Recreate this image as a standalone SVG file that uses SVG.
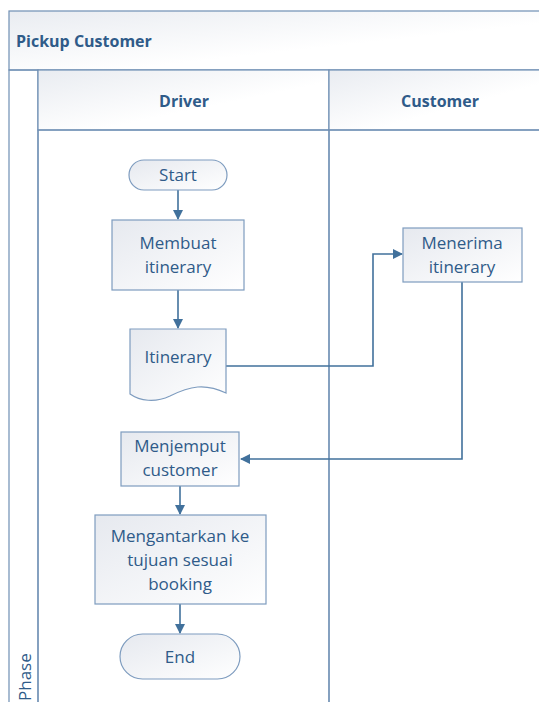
<svg xmlns="http://www.w3.org/2000/svg" width="539" height="702" viewBox="0 0 539 702">
<defs>
<linearGradient id="g" x1="0" y1="0" x2="1" y2="1">
<stop offset="0" stop-color="#E6E9EF"/>
<stop offset="1" stop-color="#FFFFFF"/>
</linearGradient>
<linearGradient id="hg" x1="0" y1="0" x2="1" y2="1">
<stop offset="0" stop-color="#E9ECF1"/>
<stop offset="0.6" stop-color="#FFFFFF"/>
</linearGradient>
<marker id="ar" markerWidth="10" markerHeight="10" refX="9" refY="5" orient="auto" markerUnits="userSpaceOnUse">
<path d="M0,0 L10,5 L0,10 Z" fill="#41719C"/>
</marker>
<style>
.sh{fill:url(#g);stroke:#7E9CBF;stroke-width:1.2}
.ln{fill:none;stroke:#6F8FB4;stroke-width:1.2}
.hd{fill:url(#hg);stroke:#6F8FB4;stroke-width:1.2}
.t{font-family:"Open Sans","Noto Sans",sans-serif;font-size:17px;fill:#2F5B89;text-anchor:middle}
.b{font-family:"Open Sans","Noto Sans",sans-serif;font-size:16px;font-weight:bold;fill:#2F5B89}
.c{fill:none;stroke:#41719C;stroke-width:1.6}
</style>
</defs>
<rect width="539" height="702" fill="#FFFFFF"/>
<g id="pool">
<rect class="hd" x="9" y="11" width="540" height="59"/>
<text class="b" x="16" y="47">Pickup Customer</text>
<rect class="ln" x="9" y="70" width="29" height="640" fill="#FFFFFF"/>
<text class="t" transform="translate(31,701) rotate(-90)" style="text-anchor:start">Phase</text>
</g>
<g id="lane-driver">
<rect class="hd" x="38" y="70" width="291" height="60"/>
<text class="b" x="184" y="107" text-anchor="middle">Driver</text>
<rect class="ln" x="38" y="130" width="291" height="580"/>
</g>
<g id="lane-customer">
<rect class="hd" x="329" y="70" width="220" height="60"/>
<text class="b" x="440" y="107" text-anchor="middle">Customer</text>
<rect class="ln" x="329" y="130" width="220" height="580"/>
</g>
<g id="connectors">
<path class="c" d="M178,190 V219" marker-end="url(#ar)"/>
<path class="c" d="M178,290 V328" marker-end="url(#ar)"/>
<path class="c" d="M226,366 H373 V254 H402" marker-end="url(#ar)"/>
<path class="c" d="M462,282 V459 H241" marker-end="url(#ar)"/>
<path class="c" d="M180,486 V514" marker-end="url(#ar)"/>
<path class="c" d="M180,604 V633" marker-end="url(#ar)"/>
</g>
<g id="start">
<rect class="sh" x="129" y="160" width="98" height="30" rx="15"/>
<text class="t" x="178" y="181">Start</text>
</g>
<g id="membuat">
<rect class="sh" x="112" y="220" width="132" height="70"/>
<text class="t" x="178" y="249">Membuat</text>
<text class="t" x="178" y="273">itinerary</text>
</g>
<g id="itinerary">
<path class="sh" d="M130,329 H226 V393 C205,383 190,386 170,396 C155,403 140,401 130,394 Z"/>
<text class="t" x="178" y="363">Itinerary</text>
</g>
<g id="menerima">
<rect class="sh" x="403" y="228" width="119" height="54"/>
<text class="t" x="462" y="249">Menerima</text>
<text class="t" x="462" y="273">itinerary</text>
</g>
<g id="menjemput">
<rect class="sh" x="121" y="432" width="118" height="54"/>
<text class="t" x="180" y="452">Menjemput</text>
<text class="t" x="180" y="476">customer</text>
</g>
<g id="mengantarkan">
<rect class="sh" x="95" y="515" width="171" height="89"/>
<text class="t" x="180" y="542">Mengantarkan ke</text>
<text class="t" x="180" y="566">tujuan sesuai</text>
<text class="t" x="180" y="590">booking</text>
</g>
<g id="end">
<rect class="sh" x="120" y="634" width="120" height="45" rx="22.5"/>
<text class="t" x="180" y="663">End</text>
</g>
</svg>
